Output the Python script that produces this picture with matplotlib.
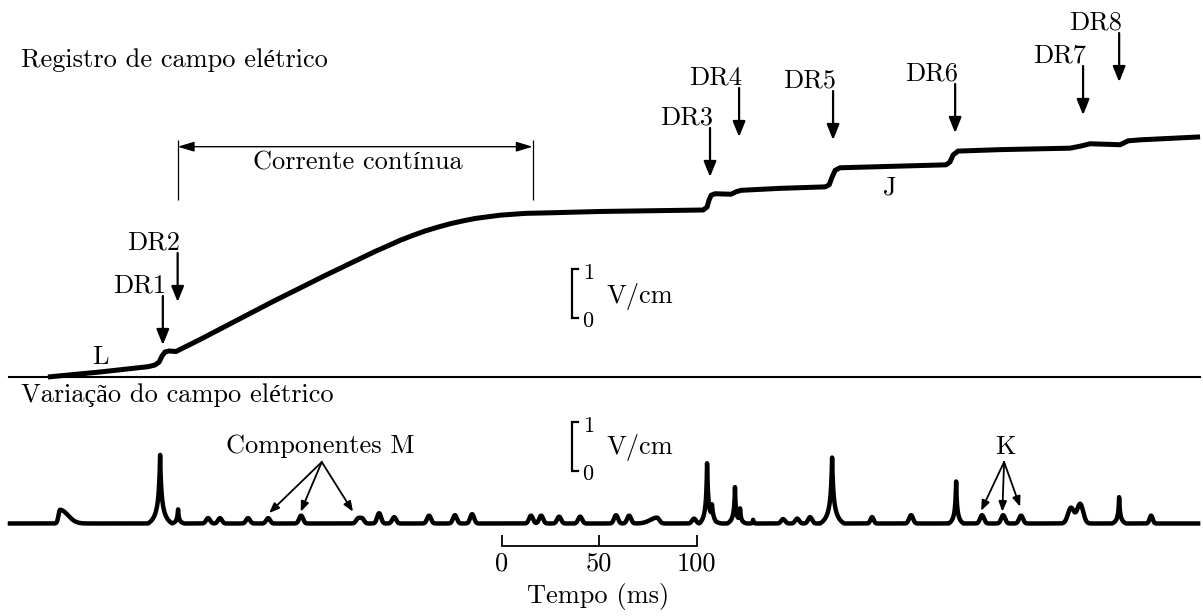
import numpy as np
import matplotlib.pyplot as plt

plt.rcParams['font.family'] = ['cmr10', 'Liberation Serif']
plt.rcParams['axes.unicode_minus'] = False

# registro de campo elétrico: tempo (ms) x campo (V/cm)
t_campo = [-232.7, -206.0, -181.4, -177.8, -175.7, -174.2, -172.7, -170.6, -167.0, -165.0,
           -154.7, -141.9, -129.1, -116.3, -103.4, -90.6, -77.8, -65.0, -58.6, -52.2,
           -45.7, -39.3, -32.9, -26.5, -20.1, -13.7, -0.9, 11.9, 24.8, 50.4,
           103.3, 105.3, 106.3, 107.4, 109.4, 117.6, 120.2, 122.8, 142.8, 165.8,
           167.9, 169.4, 171.0, 173.5, 227.8, 229.9, 231.4, 234.0, 255.5, 291.4,
           296.6, 301.7, 317.1, 319.2, 321.2, 327.4, 358.1]
e_campo = [0.000, 0.102, 0.210, 0.245, 0.306, 0.429, 0.510, 0.531, 0.520, 0.561,
           0.765, 1.031, 1.296, 1.561, 1.816, 2.071, 2.316, 2.561, 2.673, 2.788,
           2.888, 2.980, 3.057, 3.127, 3.184, 3.235, 3.302, 3.339, 3.351, 3.378,
           3.408, 3.470, 3.610, 3.710, 3.740, 3.730, 3.780, 3.810, 3.850, 3.880,
           3.920, 4.080, 4.220, 4.270, 4.330, 4.390, 4.530, 4.610, 4.640, 4.670,
           4.710, 4.760, 4.740, 4.780, 4.820, 4.840, 4.900]

# variação do campo: pulsos (tempo, amplitude, largura esq./dir., tipo)
pulso_t = [-226.5, -175.2, -166.0, -150.6, -144.5, -130.1, -119.8, -102.9, -73.7, -71.6,
           -62.9, -55.2, -37.3, -24.0, -15.2, 15.0, 20.2, 29.4, 40.2, 58.6,
           65.3, 79.6, 98.6, 105.3, 107.8, 119.6, 122.2, 128.9, 144.3, 151.5,
           158.1, 169.4, 189.9, 209.9, 233.0, 246.3, 257.1, 266.3, 291.9, 296.6,
           316.6, 333.0]
pulso_amp = [0.28, 1.42, 0.31, 0.11, 0.11, 0.11, 0.11, 0.16, 0.10, 0.10,
             0.21, 0.13, 0.16, 0.17, 0.19, 0.16, 0.16, 0.14, 0.14, 0.17,
             0.16, 0.12, 0.10, 1.30, 0.30, 0.75, 0.30, 0.08, 0.09, 0.10,
             0.13, 1.37, 0.13, 0.17, 0.89, 0.17, 0.17, 0.16, 0.32, 0.40,
             0.57, 0.16]
pulso_wl = [0.8, 6.2, 3.3, 1.0, 1.0, 1.0, 1.0, 1.0, 1.0, 1.0,
            1.0, 1.0, 1.0, 1.0, 1.0, 1.0, 1.0, 1.0, 1.0, 1.0,
            1.0, 3.5, 1.0, 4.0, 2.0, 4.0, 2.0, 1.5, 1.0, 1.0,
            1.0, 6.2, 0.8, 1.0, 3.8, 1.0, 1.0, 1.0, 1.55, 1.55,
            3.6, 0.8]
pulso_wr = [4.0, 6.2, 3.3, 1.0, 1.0, 1.0, 1.0, 1.0, 1.0, 1.0,
            1.0, 1.0, 1.0, 1.0, 1.0, 1.0, 1.0, 1.0, 1.0, 1.0,
            1.0, 1.2, 1.0, 4.5, 5.0, 3.5, 3.5, 1.5, 1.0, 1.0,
            1.0, 6.2, 0.8, 1.0, 3.8, 1.0, 1.0, 1.0, 1.55, 1.55,
            3.6, 0.8]
pulso_tipo = ['g', 's', 's', 'g', 'g', 'g', 'g', 'g', 'g', 'g',
              'g', 'g', 'g', 'g', 'g', 'g', 'g', 'g', 'g', 'g',
              'g', 'g', 'g', 's', 's', 's', 's', 's', 'g', 'g',
              'g', 's', 'g', 'g', 's', 'g', 'g', 'g', 'g', 'g',
              's', 'g']

# descargas de retorno
dr_nomes = ['DR1', 'DR2', 'DR3', 'DR4', 'DR5', 'DR6', 'DR7', 'DR8']
dr_t = [-173.8, -166.2, 106.8, 121.7, 169.9, 232.5, 298.1, 316.6]
dr_ponta = [0.653, 1.531, 4.082, 4.898, 4.837, 4.980, 5.347, 6.020]

base_var = -2.99
fs = 19

fig = plt.figure(figsize=(12.03, 6.16), dpi=100)
ax = fig.add_axes([0, 0, 1, 1])
ax.set_xlim(-257.3, 359.6)
ax.set_ylim(-4.878, 7.694)
ax.axis('off')

# curva superior
ax.plot(t_campo, e_campo, color='k', lw=3.6, solid_joinstyle='round', solid_capstyle='butt')
ax.plot([-252.6, 358.1], [0, 0], color='k', lw=1.5)

# curva inferior: picos em cúspide (s) ou arredondados (g)
t = np.linspace(-252.2, 357.1, 8000)
de = np.zeros_like(t)
for t0, a, wl, wr, k in zip(pulso_t, pulso_amp, pulso_wl, pulso_wr, pulso_tipo):
    dx = t - t0
    w = np.where(dx < 0, wl, wr)
    u = np.abs(dx) / w
    if k == 's':
        de += a * np.where(u < 1, (1 / (1 + 8 * u) - 1 / 9) / (8 / 9), 0)
    else:
        de += a * np.exp(-0.5 * u ** 2)
ax.plot(t, base_var + de, color='k', lw=3.2, solid_joinstyle='round')

# textos
ax.text(-246.5, 6.47, 'Registro de campo elétrico', fontsize=fs, ha='left', va='center')
ax.text(-246.5, -0.367, 'Variação do campo elétrico', fontsize=fs, ha='left', va='center')
ax.text(-206.0, 0.408, 'L', fontsize=fs, ha='center', va='center')
ax.text(199.1, 3.857, 'J', fontsize=fs, ha='center', va='center')

# corrente contínua
ax.annotate('', xy=(-166.2, 4.70), xytext=(15.9, 4.70),
            arrowprops=dict(arrowstyle='<|-|>,head_length=0.5,head_width=0.15',
                            mutation_scale=20, lw=1.0, color='k', shrinkA=0, shrinkB=0))
ax.vlines([-166.2, 15.9], 3.612, 4.837, color='k', lw=0.9)
ax.text(-74.0, 4.367, 'Corrente contínua', fontsize=fs, ha='center', va='center')

seta = dict(arrowstyle='-|>,head_length=0.47,head_width=0.19', mutation_scale=20,
            lw=1.6, color='k', shrinkA=0, shrinkB=0)
for nome, x, y in zip(dr_nomes, dr_t, dr_ponta):
    ax.annotate('', xy=(x, y), xytext=(x, y + 1.0), arrowprops=seta)
    ax.text(x + 1.5, y + 1.22, nome, fontsize=fs, ha='right', va='center')

# componentes M e K
seta_p = dict(arrowstyle='-|>,head_length=0.5,head_width=0.2', mutation_scale=12,
              lw=1.3, color='k', shrinkA=0, shrinkB=0)
ax.text(-93.2, -1.408, 'Componentes M', fontsize=fs, ha='center', va='center')
for xy in [(-119.3, -2.776), (-103.1, -2.749), (-76.3, -2.749)]:
    ax.annotate('', xy=xy, xytext=(-92.3, -1.735), arrowprops=seta_p)
ax.text(258.1, -1.429, 'K', fontsize=fs, ha='center', va='center')
for xy in [(245.8, -2.729), (256.7, -2.749), (265.8, -2.647)]:
    ax.annotate('', xy=xy, xytext=(257.6, -1.735), arrowprops=seta_p)

# escalas de 1 V/cm
for x0, topo, lab_y in [(36.2, 2.198, 1.633), (36.0, -0.918, -1.429)]:
    ax.plot([x0 + 2.9, x0, x0, x0 + 2.9], [topo, topo, topo - 1, topo - 1],
            color='k', lw=1.6, solid_joinstyle='miter')
    ax.text(44.3, topo - 0.08, '1', fontsize=16, ha='center', va='center')
    ax.text(44.3, topo - 1.07, '0', fontsize=16, ha='center', va='center')
    ax.text(53.5, lab_y, 'V/cm', fontsize=fs, ha='left', va='center')

# escala de tempo
ax.plot([0, 100], [-3.443, -3.443], color='k', lw=1.3)
ax.vlines([0, 50, 100], -3.443, -3.224, color='k', lw=1.3)
for v in [0, 50, 100]:
    ax.text(v, -3.80, str(v), fontsize=fs, ha='center', va='center')
ax.text(49.4, -4.49, 'Tempo (ms)', fontsize=fs, ha='center', va='center')

fig.savefig('out.png', dpi=100)
